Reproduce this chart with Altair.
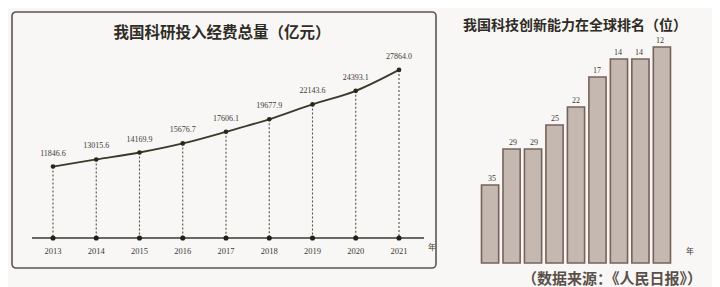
import altair as alt
import pandas as pd

# ---------------- data ----------------
years = [2013, 2014, 2015, 2016, 2017, 2018, 2019, 2020, 2021]
year_labels = ["2013", "2014", "2015", "2016", "2017", "2018", "2019", "2020", "2021"]
funding = [11846.6, 13015.6, 14169.9, 15676.7, 17606.1, 19677.9, 22143.6, 24393.1, 27864.0]
funding_labels = ["11846.6", "13015.6", "14169.9", "15676.7", "17606.1", "19677.9", "22143.6", "24393.1", "27864.0"]
ranks = [35, 29, 29, 25, 22, 17, 14, 14, 12]

left_title = "我国科研投入经费总量（亿元）"
right_title = "我国科技创新能力在全球排名（位）"
source_text = "（数据来源：《人民日报》）"
year_unit = "年"

df = pd.DataFrame({
    "year": years,
    "ylab": year_labels,
    "funding": funding,
    "flab": funding_labels,
    "rank": ranks,
})

# ---------------- scales ----------------
sx_left = alt.Scale(domain=[2013, 2021], range=[45, 391])
sy_left = alt.Scale(domain=[0, 30000], range=[230, 49])
sx_right = alt.Scale(domain=year_labels, range=[473.5, 662.5], paddingInner=0.2, paddingOuter=0)
sy_right = alt.Scale(domain=[12, 48], range=[39, 255])

serif = "Liberation Serif"
cjk = "Noto Sans CJK SC"

base = alt.Chart(df)

# ---------------- left panel ----------------
frame = alt.Chart(pd.DataFrame({"k": [0]})).mark_rect(
    fill="transparent", stroke="#5a5650", strokeWidth=1.6, cornerRadius=4
).encode(x=alt.value(4), x2=alt.value(428), y=alt.value(4), y2=alt.value(260))

title_l = alt.Chart(pd.DataFrame({"t": [left_title]})).mark_text(
    font=cjk, fontSize=15.5, fontWeight="bold", color="#2f2b25"
).encode(text="t:N", x=alt.value(214), y=alt.value(25))

axis_line = alt.Chart(pd.DataFrame({"k": [0]})).mark_rule(
    color="#3a3830", strokeWidth=1.6
).encode(x=alt.value(24), x2=alt.value(416), y=alt.value(230))

drops = base.mark_rule(color="#57523f", strokeWidth=1.1, strokeDash=[2, 2]).encode(
    x=alt.X("year:Q", scale=sx_left, axis=None),
    y=alt.Y("funding:Q", scale=sy_left, axis=None),
    y2=alt.datum(0),
)

line = base.mark_line(color="#3b3a2a", strokeWidth=1.8, interpolate="monotone").encode(
    x=alt.X("year:Q", scale=sx_left, axis=None),
    y=alt.Y("funding:Q", scale=sy_left, axis=None),
)

pts = base.mark_point(filled=True, color="#2a281c", size=22, opacity=1).encode(
    x=alt.X("year:Q", scale=sx_left, axis=None),
    y=alt.Y("funding:Q", scale=sy_left, axis=None),
)

axis_pts = base.mark_point(filled=True, color="#22201a", size=26, opacity=1).encode(
    x=alt.X("year:Q", scale=sx_left, axis=None),
    y=alt.YDatum(0, scale=sy_left, axis=None),
)

vlabels = base.mark_text(font=serif, fontSize=8, color="#3c3a34", dy=-13).encode(
    x=alt.X("year:Q", scale=sx_left, axis=None),
    y=alt.Y("funding:Q", scale=sy_left, axis=None),
    text="flab:N",
)

ylabels = base.mark_text(font=serif, fontSize=8.5, color="#3c3a34").encode(
    x=alt.X("year:Q", scale=sx_left, axis=None),
    y=alt.value(243),
    text="ylab:N",
)

unit_l = alt.Chart(pd.DataFrame({"t": [year_unit]})).mark_text(
    font=cjk, fontSize=8, color="#3c3a34"
).encode(text="t:N", x=alt.value(424), y=alt.value(240))

# ---------------- right panel ----------------
title_r = alt.Chart(pd.DataFrame({"t": [right_title]})).mark_text(
    font=cjk, fontSize=14, fontWeight="bold", color="#2f2b25"
).encode(text="t:N", x=alt.value(567), y=alt.value(18))

bars = base.mark_bar(fill="#c4b8b0", stroke="#75635b", strokeWidth=1.6).encode(
    x=alt.X("ylab:O", scale=sx_right, axis=None),
    y=alt.Y("rank:Q", scale=sy_right, axis=None),
    y2=alt.datum(48),
)

bar_labels = base.mark_text(font=serif, fontSize=8, color="#3c3a34", dy=-6).encode(
    x=alt.X("ylab:O", scale=sx_right, axis=None),
    y=alt.Y("rank:Q", scale=sy_right, axis=None),
    text="rank:Q",
)

unit_r = alt.Chart(pd.DataFrame({"t": [year_unit]})).mark_text(
    font=cjk, fontSize=8, color="#3c3a34"
).encode(text="t:N", x=alt.value(682), y=alt.value(244))

source = alt.Chart(pd.DataFrame({"t": [source_text]})).mark_text(
    font=cjk, fontSize=15, fontWeight="bold", color="#5a504a"
).encode(text="t:N", x=alt.value(604), y=alt.value(271))

chart = alt.layer(
    frame, title_l, axis_line, drops, line, pts, axis_pts, vlabels, ylabels, unit_l,
    title_r, bars, bar_labels, unit_r, source,
).resolve_scale(x="independent", y="independent").properties(
    width=704, height=279, padding=0, autosize=alt.AutoSizeParams(type="none"),
    background="#f8f7f5",
).configure_view(stroke=None)

chart.save("out.html", embed_options={"renderer": "svg", "actions": False})
